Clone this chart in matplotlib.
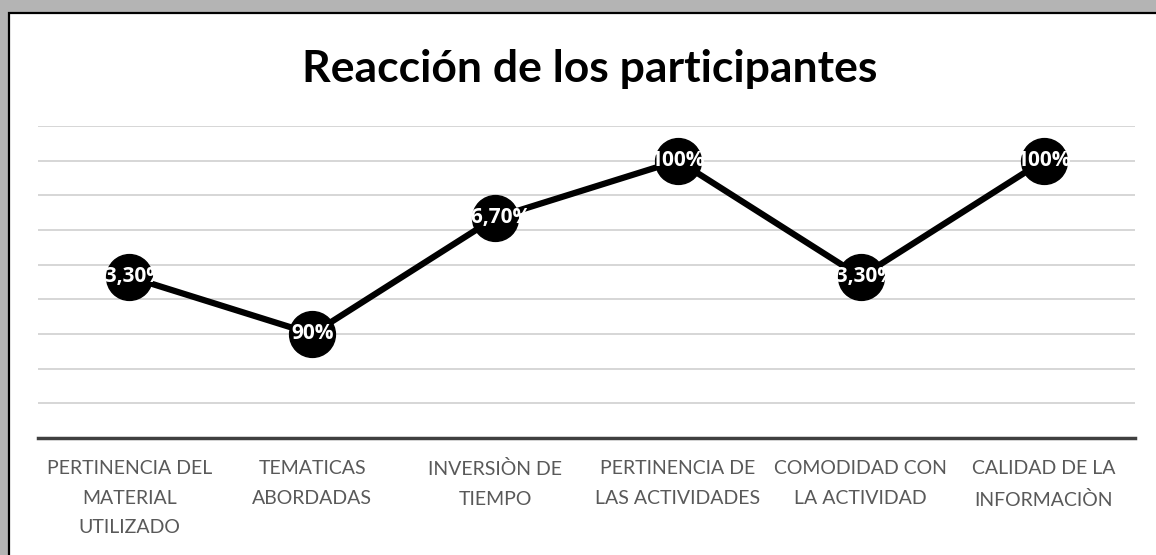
import matplotlib
matplotlib.use('Agg')
import matplotlib.pyplot as plt
from matplotlib.patches import Rectangle

categorias = ['PERTINENCIA DEL\nMATERIAL\nUTILIZADO', 'TEMATICAS\nABORDADAS',
              'INVERSIÒN DE\nTIEMPO', 'PERTINENCIA DE\nLAS ACTIVIDADES',
              'COMODIDAD CON\nLA ACTIVIDAD', 'CALIDAD DE LA\nINFORMACIÒN']
valores = [93.3, 90, 96.7, 100, 93.3, 100]
etiquetas = ['93,30%', '90%', '96,70%', '100%', '93,30%', '100%']

plt.rcParams['font.family'] = ['Lato', 'DejaVu Sans']

W, H = 1156, 555
fig = plt.figure(figsize=(W/100, H/100), dpi=100, facecolor='#b4b4b4')

# marco con sombra
marco = Rectangle((9/W, -0.01), 1, 1.01 - 13/H, transform=fig.transFigure,
                  facecolor='white', edgecolor='black', linewidth=1.6, zorder=-5)
fig.patches.append(marco)

ax = fig.add_axes([38/W, 1 - 438/H, (1135-38)/W, (438-126)/H])
ax.patch.set_alpha(0)
x = list(range(len(categorias)))

ax.plot(x, valores, color='black', linewidth=4.5, marker='o', markersize=33,
        markerfacecolor='black', markeredgecolor='black', zorder=3, clip_on=False)
for xi, v, t in zip(x, valores, etiquetas):
    ax.text(xi, v, t, color='white', fontsize=15, fontweight='bold',
            ha='center', va='center', zorder=4, family=['Open Sans', 'DejaVu Sans'])

ax.set_xlim(-0.5, len(categorias) - 0.5)
ax.set_ylim(84, 102)
ax.set_yticks(range(86, 103, 2))
ax.yaxis.grid(True, color='#d0d0d0', linewidth=1.2)
ax.set_axisbelow(True)
ax.tick_params(axis='y', left=False, labelleft=False)
ax.set_xticks(x)
ax.set_xticklabels(categorias, fontsize=14, color='#595959', linespacing=1.9)
ax.tick_params(axis='x', length=0, pad=16)
for s in ['top', 'right', 'left']:
    ax.spines[s].set_visible(False)
ax.spines['bottom'].set_color('#404040')
ax.spines['bottom'].set_linewidth(2.5)

fig.text(0.51, 1 - 69/H, 'Reacción de los participantes', fontsize=32,
         fontweight='bold', ha='center', va='center', color='black')

fig.savefig('out.png', dpi=100, facecolor=fig.get_facecolor())
